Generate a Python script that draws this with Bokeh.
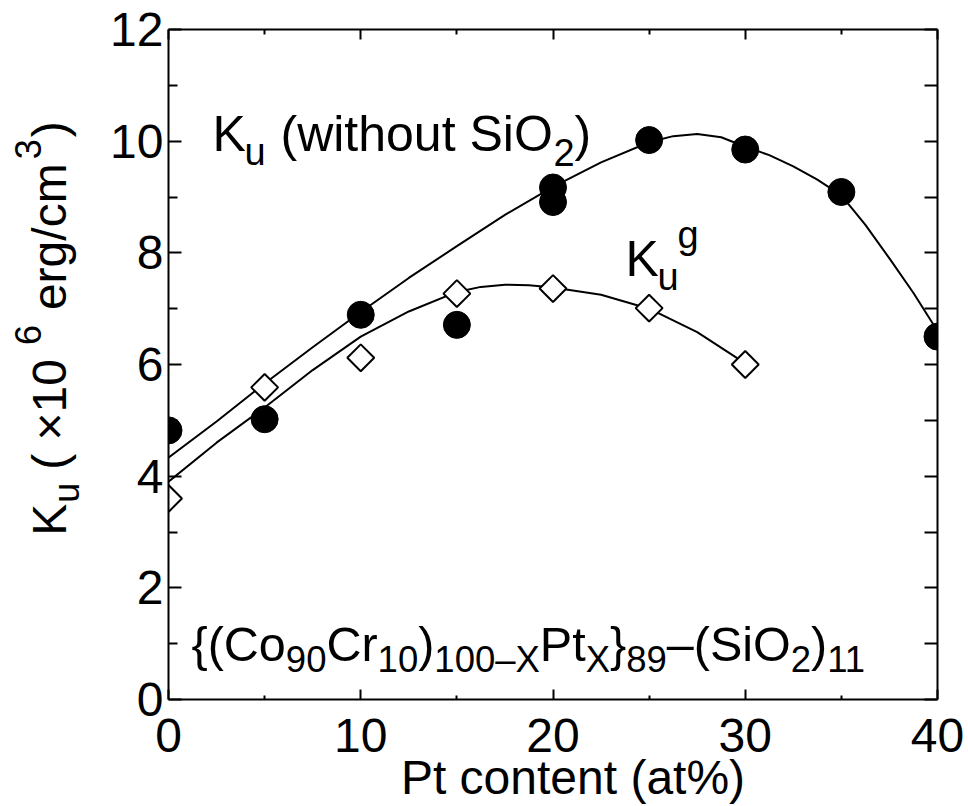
import numpy as np
from bokeh.plotting import figure
from bokeh.layouts import row
from bokeh.models import Range1d, LinearAxis, Label, FixedTicker, CustomJSTickFormatter
from bokeh.embed import file_html
from bokeh.resources import INLINE

# ---------------- data ----------------
pt_ku = [0, 5, 10, 15, 20, 20, 25, 30, 35, 40]
ku_values = [4.82, 5.02, 6.89, 6.71, 9.17, 8.91, 10.02, 9.85, 9.09, 6.50]

pt_kug = [0, 5, 10, 15, 20, 25, 30]
kug_values = [3.60, 5.59, 6.12, 7.27, 7.36, 7.01, 6.00]

# guide curves
curve_ku_x = [-0.2, 2.5, 5, 7.5, 10, 12.5, 15, 17.5, 20, 22.5, 25, 26.25, 27.5, 28.75, 30,
              31.25, 32.5, 33.75, 35, 36.25, 37.5, 38.75, 40]
curve_ku_y = [4.28, 4.98, 5.66, 6.31, 6.94, 7.55, 8.12, 8.68, 9.18, 9.62, 9.98, 10.09, 10.13,
              10.07, 9.9, 9.75, 9.55, 9.31, 9.03, 8.5, 7.9, 7.28, 6.6]
curve_kug_x = [0, 2.5, 5, 7.5, 10, 12.5, 15, 16.25, 17.5, 18.75, 20, 22.5, 25, 27.5, 30]
curve_kug_y = [3.9, 4.6, 5.23, 5.9, 6.5, 6.95, 7.3, 7.39, 7.43, 7.42, 7.38, 7.25, 7.0, 6.58, 6.02]

x_major = [0, 10, 20, 30, 40]
x_minor = [5, 15, 25, 35]
y_major = [0, 2, 4, 6, 8, 10, 12]
y_minor = [1, 3, 5, 7, 9, 11]

x_title = "\u00a0\u00a0\u00a0Pt content (at%)"

FONT = "Liberation Sans"

# Arial-compatible advance widths (em/1000) used to lay out sub/superscripts
ADV = {"{": 334, "}": 334, "(": 333, ")": 333, "C": 722, "o": 556, "r": 333, "–": 556,
       "X": 667, "P": 667, "t": 278, "S": 667, "i": 222, "O": 778, "K": 667, "u": 556,
       " ": 278, "\u00a0": 278, "×": 584, "e": 556, "g": 556, "/": 278, "c": 500, "m": 833}


def adv(text, size):
    return sum(ADV.get(ch, 556) for ch in text) / 1000.0 * size


# ---------------- layout ----------------
W, H = 968, 806
YW = 100                              # width of the strip that holds the y title
FL, FR, FT, FB = 168, 937, 29, 700   # frame edges in page pixels

p = figure(width=W - YW, height=H, x_range=Range1d(0, 40), y_range=Range1d(0, 12),
           output_backend="svg", toolbar_location=None,
           min_border_left=FL - YW, min_border_right=W - FR,
           min_border_top=FT, min_border_bottom=H - FB,
           x_axis_location=None, y_axis_location=None)
p.outline_line_color = None
p.grid.visible = False
p.background_fill_color = "white"
p.border_fill_color = "white"


def px2x(px):
    return (px - FL) / (FR - FL) * 40.0


def px2y(py):
    return (FB - py) / (FB - FT) * 12.0


def make_axis(major, minor, labels, tin, tmin):
    ax = LinearAxis(ticker=FixedTicker(ticks=major, minor_ticks=minor))
    ax.axis_line_width = 2
    ax.axis_line_color = "black"
    ax.major_tick_line_width = 2
    ax.minor_tick_line_width = 2
    ax.major_tick_in = tin
    ax.major_tick_out = 0
    ax.minor_tick_in = tmin
    ax.minor_tick_out = 0
    ax.major_label_text_font = FONT
    ax.major_label_text_font_size = "48px"
    ax.major_label_text_color = "black"
    if not labels:
        ax.formatter = CustomJSTickFormatter(code="return ''")
    return ax


bottom = make_axis(x_major, x_minor, True, 10, 4)
bottom.major_label_standoff = 19
bottom.axis_label = x_title
bottom.axis_label_text_font = FONT
bottom.axis_label_text_font_size = "48px"
bottom.axis_label_text_font_style = "normal"
bottom.axis_label_text_color = "black"
bottom.axis_label_standoff = -4
left = make_axis(y_major, y_minor, True, 13, 9)
left.major_label_standoff = 5
top = make_axis(x_major, x_minor, False, 10, 5)
right = make_axis(y_major, y_minor, False, 13, 13)
p.add_layout(bottom, "below")
p.add_layout(left, "left")
p.add_layout(top, "above")
p.add_layout(right, "right")

# ---------------- marks ----------------
p.line(curve_ku_x, curve_ku_y, line_color="black", line_width=2)
p.line(curve_kug_x, curve_kug_y, line_color="black", line_width=2)
p.scatter(pt_kug, kug_values, marker="square", angle=np.pi / 4, size=19,
          fill_color="white", line_color="black", line_width=2)
p.scatter(pt_ku, ku_values, marker="circle", size=27,
          fill_color="black", line_color="black", line_width=1)

# ---------------- texts ----------------
SHIFT = 0.39   # empirical baseline correction (fraction of font size)


def piece(text, px, py, size):
    p.add_layout(Label(x=px2x(px), y=px2y(py - SHIFT * size), x_units="data", y_units="data",
                       text=text, text_font=FONT, text_font_size=f"{size}px",
                       text_color="black", text_align="left",
                       text_baseline="alphabetic"))


def run(parts, x0, base, main, small, drop):
    """lay pieces out one after another; level 0 = main, -1 = subscript, +1 = superscript"""
    x = x0
    for t, lev in parts:
        s = main if lev == 0 else small
        piece(t, x, base + (drop if lev < 0 else (-drop if lev > 0 else 0)), s)
        x += adv(t, s)


# K_u (without SiO2)
piece("K", 212, 153, 50)
piece("u", 244, 167, 38)
piece("(without SiO", 280, 153, 50)
piece("2", 553, 167, 38)
piece(")", 574, 153, 50)

# K_u^g
piece("K", 625, 278, 50)
piece("u", 657, 292, 38)
piece("g", 677, 250, 38)

# composition formula
run([("{(Co", 0), ("90", -1), ("Cr", 0), ("10", -1), (")", 0), ("100–X", -1),
     ("Pt", 0), ("X", -1), ("}", 0), ("89", -1), ("–(SiO", 0), ("2", -1),
     (")", 0), ("11", -1)], 191, 663, 48.5, 36.5, 11)

# ---------------- y title strip ----------------
# in a row, this strip's frame is aligned with the main frame (page rows FT..FB),
# so its y range is chosen such that data y == H - page row
yfig = figure(width=YW, height=H, x_range=Range1d(0, YW), y_range=Range1d(H - FB, H - FT),
              output_backend="svg", toolbar_location=None,
              min_border_left=0, min_border_right=0, min_border_top=0, min_border_bottom=0,
              x_axis_location=None, y_axis_location=None)
yfig.outline_line_color = None
yfig.grid.visible = False
yfig.background_fill_color = "white"
yfig.border_fill_color = "white"

R = np.pi / 2
for t, bx, sy, s in [("K", 68, 536, 48), ("u", 80, 503, 36), ("( ×10", 68, 470, 48),
                     ("6", 42, 345, 36), ("erg/cm", 68, 310, 48), ("3", 42, 159, 36),
                     (")", 68, 137, 48)]:
    yfig.add_layout(Label(x=bx - SHIFT * s, y=H - sy, x_units="data", y_units="data",
                          text=t, text_font=FONT, text_font_size=f"{s}px",
                          text_color="black", text_align="left",
                          text_baseline="alphabetic", angle=R))

layout = row(yfig, p, spacing=0)
open("out.html", "w").write(file_html(layout, INLINE))
